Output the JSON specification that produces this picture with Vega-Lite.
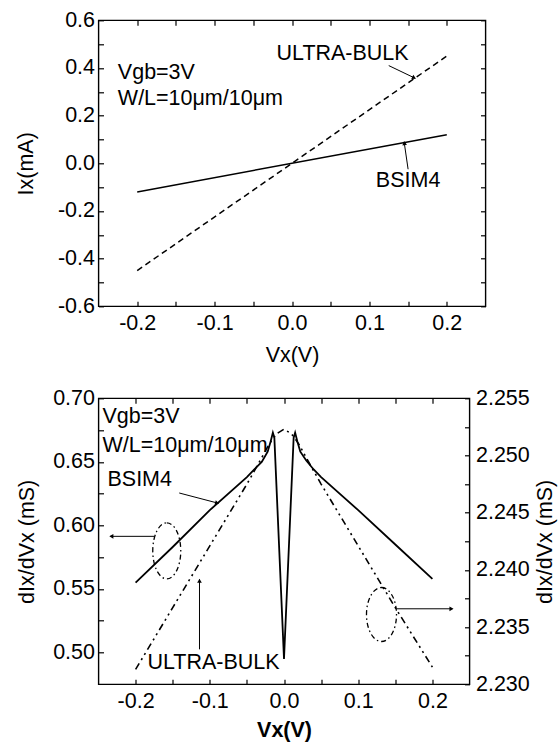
{
  "$schema": "https://vega.github.io/schema/vega-lite/v6.json",
  "autosize": {"type": "pad"},
  "padding": {"left": 14.5, "top": 8.3, "right": 4, "bottom": 2},
  "bounds": "flush",
  "spacing": 92,
  "config": {
    "font": "Liberation Sans",
    "view": {"stroke": "black", "strokeWidth": 1.4},
    "axis": {
      "domain": false, "grid": false,
      "labelFont": "Liberation Sans", "labelFontSize": 21.5, "labelColor": "black",
      "titleFont": "Liberation Sans", "titleFontSize": 21.5, "titleFontWeight": "normal", "titleColor": "black",
      "tickColor": "black", "tickWidth": 1.2, "tickSize": -5,
      "labelFlush": false, "labelOverlap": false
    },
    "text": {"font": "Liberation Sans", "fontSize": 21.5, "color": "black"}
  },
  "vconcat": [
    {
      "width": 387,
      "height": 286,
      "resolve": {"axis": {"x": "independent", "y": "independent"}},
      "layer": [
        {
          "data": {"values": [{"x": -0.2, "y": -0.12}, {"x": 0.2, "y": 0.12}]},
          "mark": {"type": "line", "color": "black", "strokeWidth": 1.5},
          "encoding": {
            "x": {"field": "x", "type": "quantitative", "scale": {"domain": [-0.25, 0.25], "nice": false, "zero": false},
              "axis": {"orient": "bottom", "values": [-0.2, -0.15, -0.1, -0.05, 0, 0.05, 0.1, 0.15, 0.2],
                "labelExpr": "abs(round(datum.value*100)) % 10 == 0 ? replace(format(datum.value, '.1f'), '\u2212', '-') : ''",
                "labelPadding": 11, "title": "Vx(V)", "titleY": 49, "titleBaseline": "middle"}},
            "y": {"field": "y", "type": "quantitative", "scale": {"domain": [-0.6, 0.6], "nice": false, "zero": false},
              "axis": {"orient": "left", "values": [-0.6, -0.5, -0.4, -0.3, -0.2, -0.1, 0, 0.1, 0.2, 0.3, 0.4, 0.5, 0.6],
                "labelExpr": "abs(round(datum.value*10)) % 2 == 0 ? replace(format(datum.value, '.1f'), '\u2212', '-') : ''",
                "labelPadding": 9, "title": "Ix(mA)", "titleX": -72, "titleBaseline": "middle", "titleAngle": 270}}
          }
        },
        {
          "data": {"values": [{"x": -0.2, "y": -0.45}, {"x": 0.2, "y": 0.45}]},
          "mark": {"type": "line", "color": "black", "strokeWidth": 1.5, "strokeDash": [6, 4]},
          "encoding": {
            "x": {"field": "x", "type": "quantitative", "scale": {"domain": [-0.25, 0.25], "nice": false, "zero": false},
              "axis": {"orient": "top", "values": [-0.2, -0.15, -0.1, -0.05, 0, 0.05, 0.1, 0.15, 0.2], "labels": false, "title": null}},
            "y": {"field": "y", "type": "quantitative", "scale": {"domain": [-0.6, 0.6], "nice": false, "zero": false},
              "axis": {"orient": "right", "values": [-0.6, -0.5, -0.4, -0.3, -0.2, -0.1, 0, 0.1, 0.2, 0.3, 0.4, 0.5, 0.6], "labels": false, "title": null}}
          }
        },
        {
          "data": {"values": [
            {"x": -0.225, "y": 0.378, "t": "Vgb=3V"},
            {"x": -0.225, "y": 0.268, "t": "W/L=10μm/10μm"},
            {"x": -0.02, "y": 0.46, "t": "ULTRA-BULK"}
          ]},
          "mark": {"type": "text", "align": "left", "baseline": "middle"},
          "encoding": {
            "x": {"field": "x", "type": "quantitative", "axis": null},
            "y": {"field": "y", "type": "quantitative", "axis": null},
            "text": {"field": "t"}
          }
        },
        {
          "data": {"values": [{"x": 0.15, "y": -0.075, "t": "BSIM4"}]},
          "mark": {"type": "text", "align": "center", "baseline": "middle"},
          "encoding": {
            "x": {"field": "x", "type": "quantitative", "axis": null},
            "y": {"field": "y", "type": "quantitative", "axis": null},
            "text": {"field": "t"}
          }
        },
        {
          "data": {"values": [
            {"x": 0.125, "y": 0.41, "x2": 0.159, "y2": 0.357},
            {"x": 0.15, "y": -0.025, "x2": 0.145, "y2": 0.087}
          ]},
          "mark": {"type": "rule", "color": "black", "strokeWidth": 1},
          "encoding": {
            "x": {"field": "x", "type": "quantitative", "axis": null},
            "y": {"field": "y", "type": "quantitative", "axis": null},
            "x2": {"field": "x2"},
            "y2": {"field": "y2"}
          }
        },
        {
          "data": {"values": [{"x": 0.157, "y": 0.36}]},
          "mark": {"type": "point", "shape": "triangle", "filled": true, "color": "black", "size": 22, "angle": 116, "opacity": 1},
          "encoding": {
            "x": {"field": "x", "type": "quantitative", "axis": null},
            "y": {"field": "y", "type": "quantitative", "axis": null}
          }
        },
        {
          "data": {"values": [{"x": 0.1453, "y": 0.082}]},
          "mark": {"type": "point", "shape": "triangle", "filled": true, "color": "black", "size": 22, "angle": 351, "opacity": 1},
          "encoding": {
            "x": {"field": "x", "type": "quantitative", "axis": null},
            "y": {"field": "y", "type": "quantitative", "axis": null}
          }
        }
      ]
    },
    {
      "width": 371,
      "height": 286,
      "resolve": {"scale": {"y": "independent"}, "axis": {"x": "independent", "y": "independent"}},
      "layer": [
        {
          "data": {"values": [
            {"x": -0.2, "y": 0.555}, {"x": -0.15, "y": 0.583}, {"x": -0.1, "y": 0.612}, {"x": -0.05, "y": 0.638},
            {"x": -0.04, "y": 0.644}, {"x": -0.03, "y": 0.65}, {"x": -0.022, "y": 0.658}, {"x": -0.018, "y": 0.666},
            {"x": -0.015, "y": 0.673}, {"x": -0.013, "y": 0.669}, {"x": 0, "y": 0.495}, {"x": 0.013, "y": 0.669},
            {"x": 0.015, "y": 0.673}, {"x": 0.018, "y": 0.666}, {"x": 0.022, "y": 0.658}, {"x": 0.03, "y": 0.651},
            {"x": 0.04, "y": 0.644}, {"x": 0.05, "y": 0.638}, {"x": 0.1, "y": 0.612}, {"x": 0.15, "y": 0.585},
            {"x": 0.2, "y": 0.558}
          ]},
          "mark": {"type": "line", "color": "black", "strokeWidth": 1.8},
          "encoding": {
            "x": {"field": "x", "type": "quantitative", "scale": {"domain": [-0.25, 0.25], "nice": false, "zero": false},
              "axis": {"orient": "bottom", "values": [-0.2, -0.15, -0.1, -0.05, 0, 0.05, 0.1, 0.15, 0.2],
                "labelExpr": "abs(round(datum.value*100)) % 10 == 0 ? replace(format(datum.value, '.1f'), '\u2212', '-') : ''",
                "labelPadding": 11, "title": "Vx(V)", "titleFontWeight": "bold", "titleY": 46, "titleBaseline": "middle"}},
            "y": {"field": "y", "type": "quantitative", "scale": {"domain": [0.475, 0.7], "nice": false, "zero": false},
              "axis": {"orient": "left", "values": [0.5, 0.525, 0.55, 0.575, 0.6, 0.625, 0.65, 0.675, 0.7],
                "labelExpr": "round(datum.value*1000) % 50 == 0 ? format(datum.value, '.2f') : ''",
                "labelPadding": 9, "title": "dIx/dVx (mS)", "titleX": -71, "titleBaseline": "middle", "titleAngle": 270}}
          }
        },
        {
          "data": {"values": [
            {"x": -0.2, "y": 2.2313}, {"x": -0.15, "y": 2.2367}, {"x": -0.1, "y": 2.2421}, {"x": -0.05, "y": 2.2475},
            {"x": -0.03, "y": 2.2498}, {"x": -0.02, "y": 2.251}, {"x": -0.01, "y": 2.2519}, {"x": 0, "y": 2.2523},
            {"x": 0.01, "y": 2.2519}, {"x": 0.02, "y": 2.251}, {"x": 0.03, "y": 2.2498}, {"x": 0.05, "y": 2.2475},
            {"x": 0.1, "y": 2.2421}, {"x": 0.15, "y": 2.2367}, {"x": 0.2, "y": 2.2315}
          ]},
          "mark": {"type": "line", "color": "black", "strokeWidth": 1.6, "strokeDash": [7, 4, 2, 4, 2, 4]},
          "encoding": {
            "x": {"field": "x", "type": "quantitative", "scale": {"domain": [-0.25, 0.25], "nice": false, "zero": false},
              "axis": {"orient": "top", "values": [-0.2, -0.15, -0.1, -0.05, 0, 0.05, 0.1, 0.15, 0.2], "labels": false, "title": null}},
            "y": {"field": "y", "type": "quantitative", "scale": {"domain": [2.23, 2.255], "nice": false, "zero": false},
              "axis": {"orient": "right", "values": [2.23, 2.2325, 2.235, 2.2375, 2.24, 2.2425, 2.245, 2.2475, 2.25, 2.2525, 2.255],
                "labelExpr": "round(datum.value*10000) % 50 == 0 ? format(datum.value, '.3f') : ''",
                "labelPadding": 11, "title": "dIx/dVx (mS)", "titleX": 76, "titleBaseline": "middle", "titleAngle": 270}}
          }
        },
        {
          "data": {"values": [
            {"x": -0.2446, "y": 0.685, "t": "Vgb=3V"},
            {"x": -0.2446, "y": 0.6622, "t": "W/L=10μm/10μm"},
            {"x": -0.2379, "y": 0.6355, "t": "BSIM4"},
            {"x": -0.184, "y": 0.4915, "t": "ULTRA-BULK"}
          ]},
          "mark": {"type": "text", "align": "left", "baseline": "middle"},
          "encoding": {
            "x": {"field": "x", "type": "quantitative", "scale": {"domain": [-0.25, 0.25], "nice": false, "zero": false}, "axis": null},
            "y": {"field": "y", "type": "quantitative", "scale": {"domain": [0.475, 0.7], "nice": false, "zero": false}, "axis": null},
            "text": {"field": "t"}
          }
        },
        {
          "data": {"values": [
            {"x": -0.1412, "y": 0.6255, "x2": -0.0896, "y2": 0.6176},
            {"x": -0.1139, "y": 0.5025, "x2": -0.1139, "y2": 0.5576},
            {"x": -0.1745, "y": 0.5914, "x2": -0.2338, "y2": 0.5914}
          ]},
          "mark": {"type": "rule", "color": "black", "strokeWidth": 1},
          "encoding": {
            "x": {"field": "x", "type": "quantitative", "scale": {"domain": [-0.25, 0.25], "nice": false, "zero": false}, "axis": null},
            "y": {"field": "y", "type": "quantitative", "scale": {"domain": [0.475, 0.7], "nice": false, "zero": false}, "axis": null},
            "x2": {"field": "x2"},
            "y2": {"field": "y2"}
          }
        },
        {
          "data": {"values": [{"x": 0.1516, "y": 2.2366, "x2": 0.2268, "y2": 2.2366}]},
          "mark": {"type": "rule", "color": "black", "strokeWidth": 1},
          "encoding": {
            "x": {"field": "x", "type": "quantitative", "scale": {"domain": [-0.25, 0.25], "nice": false, "zero": false}, "axis": null},
            "y": {"field": "y", "type": "quantitative", "scale": {"domain": [2.23, 2.255], "nice": false, "zero": false}, "axis": null},
            "x2": {"field": "x2"},
            "y2": {"field": "y2"}
          }
        },
        {
          "data": {"values": [{"x": -0.158, "y": 0.58}]},
          "mark": {"type": "point", "shape": "M0,-1 A0.5,1 0 1,1 0,1 A0.5,1 0 1,1 0,-1 Z", "size": 3136, "filled": false, "color": "black", "strokeWidth": 1.3, "strokeDash": [5, 3, 1.5, 3], "opacity": 1},
          "encoding": {
            "x": {"field": "x", "type": "quantitative", "scale": {"domain": [-0.25, 0.25], "nice": false, "zero": false}, "axis": null},
            "y": {"field": "y", "type": "quantitative", "scale": {"domain": [0.475, 0.7], "nice": false, "zero": false}, "axis": null}
          }
        },
        {
          "data": {"values": [{"x": 0.1314, "y": 2.2361}]},
          "mark": {"type": "point", "shape": "M0,-1 A0.556,1 0 1,1 0,1 A0.556,1 0 1,1 0,-1 Z", "size": 2916, "filled": false, "color": "black", "strokeWidth": 1.3, "strokeDash": [5, 3, 1.5, 3], "opacity": 1},
          "encoding": {
            "x": {"field": "x", "type": "quantitative", "scale": {"domain": [-0.25, 0.25], "nice": false, "zero": false}, "axis": null},
            "y": {"field": "y", "type": "quantitative", "scale": {"domain": [2.23, 2.255], "nice": false, "zero": false}, "axis": null}
          }
        },
        {
          "data": {"values": [{"x": -0.091, "y": 0.6178}]},
          "mark": {"type": "point", "shape": "triangle", "filled": true, "color": "black", "size": 22, "angle": 105, "opacity": 1},
          "encoding": {
            "x": {"field": "x", "type": "quantitative", "scale": {"domain": [-0.25, 0.25], "nice": false, "zero": false}, "axis": null},
            "y": {"field": "y", "type": "quantitative", "scale": {"domain": [0.475, 0.7], "nice": false, "zero": false}, "axis": null}
          }
        },
        {
          "data": {"values": [{"x": -0.1139, "y": 0.556}]},
          "mark": {"type": "point", "shape": "triangle", "filled": true, "color": "black", "size": 22, "angle": 0, "opacity": 1},
          "encoding": {
            "x": {"field": "x", "type": "quantitative", "scale": {"domain": [-0.25, 0.25], "nice": false, "zero": false}, "axis": null},
            "y": {"field": "y", "type": "quantitative", "scale": {"domain": [0.475, 0.7], "nice": false, "zero": false}, "axis": null}
          }
        },
        {
          "data": {"values": [{"x": -0.2318, "y": 0.5914}]},
          "mark": {"type": "point", "shape": "triangle", "filled": true, "color": "black", "size": 22, "angle": 270, "opacity": 1},
          "encoding": {
            "x": {"field": "x", "type": "quantitative", "scale": {"domain": [-0.25, 0.25], "nice": false, "zero": false}, "axis": null},
            "y": {"field": "y", "type": "quantitative", "scale": {"domain": [0.475, 0.7], "nice": false, "zero": false}, "axis": null}
          }
        },
        {
          "data": {"values": [{"x": 0.2248, "y": 2.2366}]},
          "mark": {"type": "point", "shape": "triangle", "filled": true, "color": "black", "size": 22, "angle": 90, "opacity": 1},
          "encoding": {
            "x": {"field": "x", "type": "quantitative", "scale": {"domain": [-0.25, 0.25], "nice": false, "zero": false}, "axis": null},
            "y": {"field": "y", "type": "quantitative", "scale": {"domain": [2.23, 2.255], "nice": false, "zero": false}, "axis": null}
          }
        }
      ]
    }
  ]
}
